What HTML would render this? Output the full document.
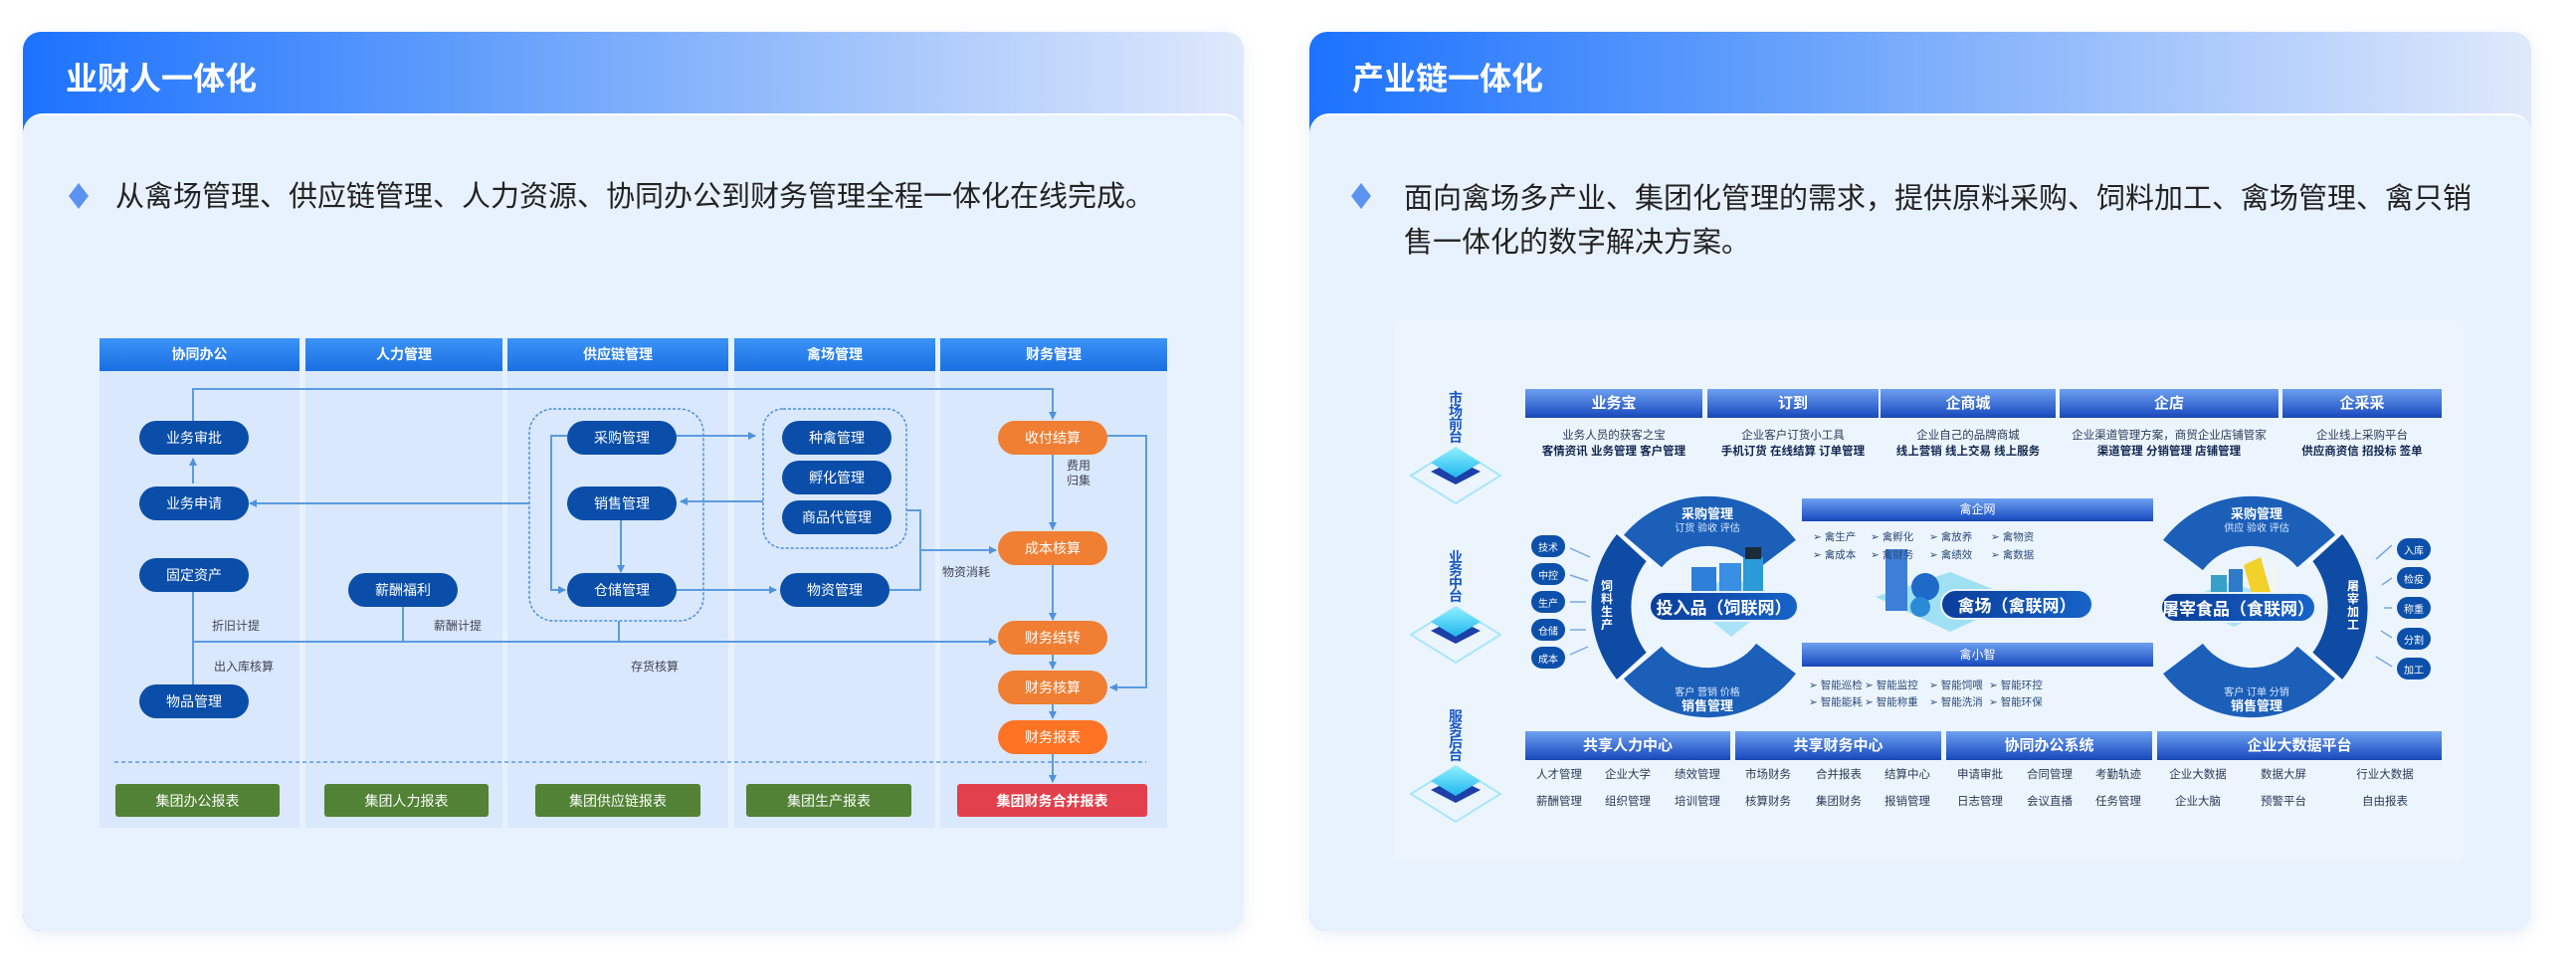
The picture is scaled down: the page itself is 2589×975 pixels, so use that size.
<!DOCTYPE html>
<html><head><meta charset="utf-8"><style>
*{margin:0;padding:0;box-sizing:border-box}
body{width:2589px;height:975px;background:#fff;position:relative;overflow:hidden;font-family:"Liberation Sans","Noto Sans CJK SC",sans-serif}
.a{position:absolute}
.card{position:absolute;top:32px;height:904px;border-radius:18px;background:linear-gradient(90deg,#1c72ff 0%,#5e9cfb 35%,#a5c6fb 70%,#dfe9fb 100%);box-shadow:0 4px 16px rgba(120,140,180,.15)}
.body{position:absolute;left:0;right:0;top:82px;bottom:0;background:#e8f2ff;border-radius:20px 20px 18px 18px;border-top:2px solid #fff}
.title{position:absolute;left:43px;top:22px;color:#fff;font-size:32px;font-weight:bold}
.dia{position:absolute;width:20px;height:26px;background:#5b93f0;clip-path:polygon(50% 0,100% 50%,50% 100%,0 50%)}
.bt{position:absolute;font-size:29px;color:#222;line-height:44px}
.col{position:absolute;top:340px;height:492px;background:#d9e8fc}
.ch{position:absolute;left:0;right:0;top:0;height:33px;background:linear-gradient(#3c93f7,#1a6fe2);color:#fff;font-size:14px;font-weight:bold;text-align:center;line-height:33px}
.n{position:absolute;width:110px;height:34px;border-radius:17px;background:#0a4ea9;color:#fff;font-size:14px;display:flex;align-items:center;justify-content:center}
.o{background:#f07e33}
.g{position:absolute;top:788px;height:33px;background:#518235;color:#fff;font-size:14px;display:flex;align-items:center;justify-content:center;border-radius:3px}
.lb{position:absolute;font-size:12px;color:#445;}
.th{position:absolute;height:29px;background:linear-gradient(#6e9ff0,#2356c6 85%,#1b46b0);color:#fff;font-weight:bold;font-size:15px;text-align:center;line-height:29px}
.td{position:absolute;text-align:center;font-size:11.5px;color:#2b3a55;line-height:16px}
.td b{color:#10254d}
.it{position:absolute;font-size:11.5px;color:#2b3a55;transform:translateX(-50%);white-space:nowrap}
.ci{position:absolute;width:34px;height:22px;border-radius:11px;background:#0c50ab;color:#fff;font-size:10px;display:flex;align-items:center;justify-content:center}
.vt{position:absolute;width:16px;font-size:14px;font-weight:bold;color:#1b57c4;line-height:13px;text-align:center}
.pill{position:absolute;border-radius:16px;background:linear-gradient(90deg,#0b3e9a,#1763c8);color:#fff;font-weight:bold;font-size:19px;display:flex;align-items:center;justify-content:center;border:2px solid #e8f2ff}
.sm{position:absolute;font-size:10.5px;color:#2b4a78;white-space:nowrap}
</style></head><body>

<!-- LEFT CARD -->
<div class="card" style="left:23px;width:1227px">
  <div class="title">业财人一体化</div>
  <div class="body"></div>
</div>
<div class="dia" style="left:69px;top:184px"></div>
<div class="bt" style="left:116px;top:176px">从禽场管理、供应链管理、人力资源、协同办公到财务管理全程一体化在线完成。</div>

<div class="col" style="left:100px;width:201px"><div class="ch">协同办公</div></div>
<div class="col" style="left:307px;width:198px"><div class="ch">人力管理</div></div>
<div class="col" style="left:510px;width:222px"><div class="ch">供应链管理</div></div>
<div class="col" style="left:738px;width:202px"><div class="ch">禽场管理</div></div>
<div class="col" style="left:945px;width:228px"><div class="ch">财务管理</div></div>

<svg class="a" style="left:0;top:0" width="2589" height="975">
<defs><marker id="ar" markerWidth="8" markerHeight="8" refX="7" refY="4" orient="auto" markerUnits="userSpaceOnUse"><path d="M0,0 L8,4 L0,8 z" fill="#4f92dc"/></marker></defs>
<g fill="none" stroke="#5b9be0" stroke-width="2">
<rect x="532" y="411" width="175" height="213" rx="24" stroke="#4a8fe0" stroke-width="1.5" stroke-dasharray="3 2"/>
<rect x="767" y="411" width="144" height="140" rx="20" stroke="#4a8fe0" stroke-width="1.5" stroke-dasharray="3 2"/>
<polyline points="194,423 194,391 1058,391 1058,421" marker-end="url(#ar)"/>
<line x1="194" y1="486" x2="194" y2="461" marker-end="url(#ar)"/>
<line x1="532" y1="506" x2="251" y2="506" marker-end="url(#ar)"/>
<line x1="679" y1="438" x2="759" y2="438" marker-end="url(#ar)"/>
<line x1="767" y1="504" x2="684" y2="504" marker-end="url(#ar)"/>
<line x1="624" y1="523" x2="624" y2="575" marker-end="url(#ar)"/>
<polyline points="570,438 554,438 554,593 568,593" marker-end="url(#ar)"/>
<line x1="679" y1="593" x2="780" y2="593" marker-end="url(#ar)"/>
<polyline points="893,593 925,593 925,513 911,513"/>
<line x1="925" y1="553" x2="1001" y2="553" marker-end="url(#ar)"/>
<line x1="1058" y1="457" x2="1058" y2="532" marker-end="url(#ar)"/>
<line x1="1058" y1="567" x2="1058" y2="623" marker-end="url(#ar)"/>
<line x1="1058" y1="657" x2="1058" y2="672" marker-end="url(#ar)"/>
<line x1="1058" y1="707" x2="1058" y2="722" marker-end="url(#ar)"/>
<line x1="1058" y1="758" x2="1058" y2="786" marker-end="url(#ar)"/>
<polyline points="1113,438 1152,438 1152,691 1116,691" marker-end="url(#ar)"/>
<line x1="194" y1="593" x2="194" y2="688"/>
<line x1="405" y1="609" x2="405" y2="645"/>
<line x1="622" y1="624" x2="622" y2="645"/>
<line x1="194" y1="645" x2="1001" y2="645" marker-end="url(#ar)"/>
<line x1="115" y1="766" x2="1152" y2="766" stroke-dasharray="4 3" stroke-width="1.5"/>
</g>
</svg>

<div class="n" style="left:140px;top:423px">业务审批</div>
<div class="n" style="left:140px;top:489px">业务申请</div>
<div class="n" style="left:140px;top:561px">固定资产</div>
<div class="n" style="left:140px;top:688px">物品管理</div>
<div class="n" style="left:350px;top:576px">薪酬福利</div>
<div class="n" style="left:570px;top:423px">采购管理</div>
<div class="n" style="left:570px;top:489px">销售管理</div>
<div class="n" style="left:570px;top:576px">仓储管理</div>
<div class="n" style="left:786px;top:423px">种禽管理</div>
<div class="n" style="left:786px;top:463px">孵化管理</div>
<div class="n" style="left:786px;top:503px">商品代管理</div>
<div class="n" style="left:784px;top:576px">物资管理</div>
<div class="n o" style="left:1003px;top:423px">收付结算</div>
<div class="n o" style="left:1003px;top:534px">成本核算</div>
<div class="n o" style="left:1003px;top:624px">财务结转</div>
<div class="n o" style="left:1003px;top:674px">财务核算</div>
<div class="n o" style="left:1003px;top:724px;background:#ff7324">财务报表</div>

<div class="lb" style="left:1072px;top:461px;line-height:15px">费用<br>归集</div>
<div class="lb" style="left:947px;top:566px">物资消耗</div>
<div class="lb" style="left:213px;top:620px">折旧计提</div>
<div class="lb" style="left:436px;top:620px">薪酬计提</div>
<div class="lb" style="left:215px;top:661px">出入库核算</div>
<div class="lb" style="left:634px;top:661px">存货核算</div>

<div class="g" style="left:116px;width:165px">集团办公报表</div>
<div class="g" style="left:326px;width:165px">集团人力报表</div>
<div class="g" style="left:538px;width:166px">集团供应链报表</div>
<div class="g" style="left:750px;width:166px">集团生产报表</div>
<div class="g" style="left:962px;width:191px;background:#e2404c;font-weight:bold">集团财务合并报表</div>

<!-- RIGHT CARD -->
<div class="card" style="left:1316px;width:1228px">
  <div class="title" style="left:43px">产业链一体化</div>
  <div class="body"></div>
</div>
<div class="dia" style="left:1358px;top:184px"></div>
<div class="bt" style="left:1411px;top:178px;width:1080px">面向禽场多产业、集团化管理的需求，提供原料采购、饲料加工、禽场管理、禽只销<br>售一体化的数字解决方案。</div>

<div class="a" style="left:1400px;top:322px;width:1076px;height:545px;background:#ecf5fe;border-radius:6px"></div>

<svg class="a" style="left:1400px;top:322px" width="140" height="545">
<defs><linearGradient id="cy" x1="0" y1="0" x2="0" y2="1"><stop offset="0" stop-color="#8ff0ff"/><stop offset="1" stop-color="#1fb6ee"/></linearGradient></defs>
<g id="ic">
<path d="M63,128 L108,156 L63,184 L18,156 z" fill="none" stroke="#a6e6fb" stroke-width="2"/>
<path d="M63,140 L88,152 L63,165 L38,152 z" fill="#1c3fa8"/>
<path d="M63,128 L88,143 L63,158 L38,143 z" fill="url(#cy)"/>
</g>
<use href="#ic" y="160"/>
<use href="#ic" y="320"/>
</svg>
<div class="vt" style="left:1455px;top:394px">市<br>场<br>前<br>台</div>
<div class="vt" style="left:1455px;top:554px">业<br>务<br>中<br>台</div>
<div class="vt" style="left:1455px;top:714px">服<br>务<br>后<br>台</div>

<div class="th" style="left:1533px;top:391px;width:178px">业务宝</div>
<div class="th" style="left:1716px;top:391px;width:172px">订到</div>
<div class="th" style="left:1890px;top:391px;width:176px">企商城</div>
<div class="th" style="left:2070px;top:391px;width:220px">企店</div>
<div class="th" style="left:2294px;top:391px;width:160px">企采采</div>
<div class="td" style="left:1533px;top:430px;width:178px">业务人员的获客之宝<br><b>客情资讯 业务管理 客户管理</b></div>
<div class="td" style="left:1716px;top:430px;width:172px">企业客户订货小工具<br><b>手机订货 在线结算 订单管理</b></div>
<div class="td" style="left:1890px;top:430px;width:176px">企业自己的品牌商城<br><b>线上营销 线上交易 线上服务</b></div>
<div class="td" style="left:2070px;top:430px;width:220px">企业渠道管理方案，商贸企业店铺管家<br><b>渠道管理 分销管理 店铺管理</b></div>
<div class="td" style="left:2294px;top:430px;width:160px">企业线上采购平台<br><b>供应商资信 招投标 签单</b></div>

<svg class="a" style="left:0;top:0" width="2589" height="975">
<g id="ring" fill="none">
<path d="M1651,554 A86,86 0 0 1 1785,558" stroke="#1b5fb9" stroke-width="50"/>
<path d="M1651,666 A86,86 0 0 0 1785,662" stroke="#1b5fb9" stroke-width="50"/>
<path d="M1641,549 A97,97 0 0 0 1641,671" stroke="#0e4ba4" stroke-width="40"/>
<line x1="1625" y1="535" x2="1660" y2="567" stroke="#fff" stroke-width="3"/>
<line x1="1625" y1="685" x2="1660" y2="653" stroke="#fff" stroke-width="3"/>
</g>
<use href="#ring" transform="translate(3979,0) scale(-1,1)"/>
<g stroke="#7aa7e0" stroke-width="1.5">
<line x1="1578" y1="551" x2="1598" y2="560"/><line x1="1578" y1="578" x2="1596" y2="584"/><line x1="1578" y1="605" x2="1594" y2="605"/><line x1="1578" y1="633" x2="1594" y2="633"/><line x1="1578" y1="658" x2="1596" y2="650"/>
<line x1="2404" y1="548" x2="2388" y2="562"/><line x1="2404" y1="581" x2="2394" y2="588"/><line x1="2404" y1="611" x2="2396" y2="611"/><line x1="2404" y1="641" x2="2393" y2="634"/><line x1="2404" y1="670" x2="2388" y2="660"/>
</g>
<g>
<path d="M1690,600 L1740,580 L1790,600 L1740,640 z" fill="#8fdcf5" opacity=".7"/>
<rect x="1700" y="570" width="25" height="30" fill="#2d7fd8"/><rect x="1728" y="566" width="22" height="34" fill="#3a8fe4"/>
<rect x="1752" y="560" width="20" height="40" fill="#2a9ad8"/><rect x="1754" y="550" width="16" height="12" fill="#1d2a3a"/>
<path d="M1885,600 L1960,575 L2030,603 L1960,635 z" fill="#9fe0f4"/>
<rect x="1895" y="552" width="22" height="62" fill="#3b7fd6"/>
<circle cx="1935" cy="590" r="14" fill="#1e6ac8"/><circle cx="1930" cy="610" r="10" fill="#2b8ad6"/>
<path d="M2190,605 L2240,585 L2300,605 L2245,630 z" fill="#8fdcf5" opacity=".7"/>
<rect x="2222" y="578" width="16" height="24" fill="#36a0c8"/><rect x="2240" y="572" width="14" height="30" fill="#2c7ac9"/>
<path d="M2255,568 L2272,560 L2282,595 L2264,600 z" fill="#f2d12a"/><rect x="2282" y="566" width="8" height="30" fill="#f4f4f4"/>
</g>
</svg>
<div class="a" style="left:1676px;top:506px;width:80px;text-align:center;color:#fff;font-size:13px;font-weight:bold">采购管理</div>
<div class="a" style="left:1676px;top:522px;width:80px;text-align:center;color:#dbe8fb;font-size:10px">订货 验收 评估</div>
<div class="a" style="left:1676px;top:687px;width:80px;text-align:center;color:#dbe8fb;font-size:10px">客户 营销 价格</div>
<div class="a" style="left:1676px;top:699px;width:80px;text-align:center;color:#fff;font-size:13px;font-weight:bold">销售管理</div>
<div class="a" style="left:1609px;top:583px;width:14px;color:#fff;font-size:12px;font-weight:bold;line-height:13px">饲<br>料<br>生<br>产</div>
<div class="a" style="left:2228px;top:506px;width:80px;text-align:center;color:#fff;font-size:13px;font-weight:bold">采购管理</div>
<div class="a" style="left:2228px;top:522px;width:80px;text-align:center;color:#dbe8fb;font-size:10px">供应 验收 评估</div>
<div class="a" style="left:2228px;top:687px;width:80px;text-align:center;color:#dbe8fb;font-size:10px">客户 订单 分销</div>
<div class="a" style="left:2228px;top:699px;width:80px;text-align:center;color:#fff;font-size:13px;font-weight:bold">销售管理</div>
<div class="a" style="left:2359px;top:583px;width:14px;color:#fff;font-size:12px;font-weight:bold;line-height:13px">屠<br>宰<br>加<br>工</div>

<div class="ci" style="left:1539px;top:538px">技术</div>
<div class="ci" style="left:1539px;top:566px">中控</div>
<div class="ci" style="left:1539px;top:594px">生产</div>
<div class="ci" style="left:1539px;top:622px">仓储</div>
<div class="ci" style="left:1539px;top:650px">成本</div>
<div class="ci" style="left:2409px;top:541px">入库</div>
<div class="ci" style="left:2409px;top:570px">检疫</div>
<div class="ci" style="left:2409px;top:600px">称重</div>
<div class="ci" style="left:2409px;top:631px">分割</div>
<div class="ci" style="left:2409px;top:661px">加工</div>

<div class="pill" style="left:1657px;top:594px;width:151px;height:31px;font-size:17px">投入品（饲联网）</div>
<div class="pill" style="left:1950px;top:592px;width:154px;height:31px;font-size:17px">禽场（禽联网）</div>
<div class="pill" style="left:2171px;top:595px;width:157px;height:31px;font-size:17px">屠宰食品（食联网）</div>

<div class="th" style="left:1811px;top:501px;width:353px;height:23px;line-height:23px;font-size:12px;font-weight:normal">禽企网</div>
<div class="sm" style="left:1822px;top:532px">➢ 禽生产</div><div class="sm" style="left:1880px;top:532px">➢ 禽孵化</div><div class="sm" style="left:1939px;top:532px">➢ 禽放养</div><div class="sm" style="left:2001px;top:532px">➢ 禽物资</div>
<div class="sm" style="left:1822px;top:550px">➢ 禽成本</div><div class="sm" style="left:1880px;top:550px">➢ 禽财务</div><div class="sm" style="left:1939px;top:550px">➢ 禽绩效</div><div class="sm" style="left:2001px;top:550px">➢ 禽数据</div>
<div class="th" style="left:1811px;top:646px;width:353px;height:24px;line-height:24px;font-size:12px;font-weight:normal">禽小智</div>
<div class="sm" style="left:1818px;top:681px">➢ 智能巡检</div><div class="sm" style="left:1874px;top:681px">➢ 智能监控</div><div class="sm" style="left:1939px;top:681px">➢ 智能饲喂</div><div class="sm" style="left:1999px;top:681px">➢ 智能环控</div>
<div class="sm" style="left:1818px;top:698px">➢ 智能能耗</div><div class="sm" style="left:1874px;top:698px">➢ 智能称重</div><div class="sm" style="left:1939px;top:698px">➢ 智能洗消</div><div class="sm" style="left:1999px;top:698px">➢ 智能环保</div>

<div class="th" style="left:1533px;top:735px;width:206px">共享人力中心</div>
<div class="th" style="left:1744px;top:735px;width:207px">共享财务中心</div>
<div class="th" style="left:1956px;top:735px;width:207px">协同办公系统</div>
<div class="th" style="left:2168px;top:735px;width:286px">企业大数据平台</div>
<div class="it" style="left:1567px;top:770px">人才管理</div><div class="it" style="left:1636px;top:770px">企业大学</div><div class="it" style="left:1706px;top:770px">绩效管理</div>
<div class="it" style="left:1777px;top:770px">市场财务</div><div class="it" style="left:1848px;top:770px">合并报表</div><div class="it" style="left:1917px;top:770px">结算中心</div>
<div class="it" style="left:1990px;top:770px">申请审批</div><div class="it" style="left:2060px;top:770px">合同管理</div><div class="it" style="left:2129px;top:770px">考勤轨迹</div>
<div class="it" style="left:2209px;top:770px">企业大数据</div><div class="it" style="left:2295px;top:770px">数据大屏</div><div class="it" style="left:2397px;top:770px">行业大数据</div>
<div class="it" style="left:1567px;top:797px">薪酬管理</div><div class="it" style="left:1636px;top:797px">组织管理</div><div class="it" style="left:1706px;top:797px">培训管理</div>
<div class="it" style="left:1777px;top:797px">核算财务</div><div class="it" style="left:1848px;top:797px">集团财务</div><div class="it" style="left:1917px;top:797px">报销管理</div>
<div class="it" style="left:1990px;top:797px">日志管理</div><div class="it" style="left:2060px;top:797px">会议直播</div><div class="it" style="left:2129px;top:797px">任务管理</div>
<div class="it" style="left:2209px;top:797px">企业大脑</div><div class="it" style="left:2295px;top:797px">预警平台</div><div class="it" style="left:2397px;top:797px">自由报表</div>

</body></html>
